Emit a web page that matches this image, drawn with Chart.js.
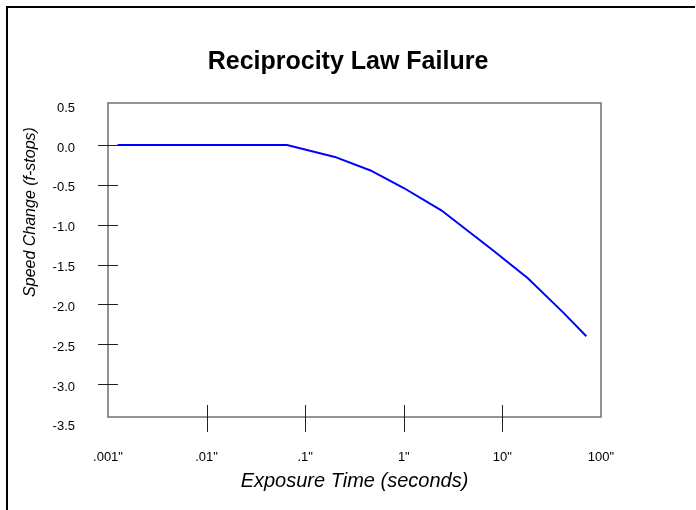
<!DOCTYPE html>
<html>
<head>
<meta charset="utf-8">
<script src="https://cdn.jsdelivr.net/npm/chart.js@4"></script>
<style>
  html, body { margin: 0; padding: 0; background: #fff; }
  #grafico { display: block; }
</style>
</head>
<body>
<canvas id="grafico" width="696" height="510"></canvas>
<script>
// exposure time (s) vs speed change (f-stops)
const tiempos = [0.00125, 0.0655, 0.2, 0.46, 1, 2.4, 7.6, 18, 42, 71];
const cambios = [0, 0, -0.15, -0.32, -0.54, -0.82, -1.30, -1.67, -2.11, -2.40];

const marcasX = [0.001, 0.01, 0.1, 1, 10, 100];
const etiquetasX = ['.001"', '.01"', '.1"', '1"', '10"', '100"'];
const marcasY = [0.5, 0, -0.5, -1, -1.5, -2, -2.5, -3, -3.5];

const titulo = 'Reciprocity Law Failure';
const tituloX = 'Exposure Time (seconds)';
const tituloY = 'Speed Change (f-stops)';

const fuente = "'Liberation Sans', Arial, sans-serif";

// box, crossing ticks, y title and the outer frame
const marcoPlugin = {
    id: 'marco',
    afterDraw(chart) {
        const ctx = chart.ctx;
        const area = chart.chartArea;
        const x = chart.scales.x;
        const y = chart.scales.y;
        ctx.save();

        ctx.strokeStyle = '#707070';
        ctx.lineWidth = 1.5;
        ctx.strokeRect(area.left, area.top, area.right - area.left, area.bottom - area.top);

        ctx.strokeStyle = '#222';
        ctx.lineWidth = 1;
        x.ticks.forEach(t => {
            const px = x.getPixelForValue(t.value);
            if (px < area.left + 4 || px > area.right - 4) return; // no tick on the box edges
            const p = Math.round(px) + 0.5;
            ctx.beginPath();
            ctx.moveTo(p, area.bottom - 12);
            ctx.lineTo(p, area.bottom + 15);
            ctx.stroke();
        });
        y.ticks.forEach(t => {
            const py = y.getPixelForValue(t.value);
            if (py < area.top + 4 || py > area.bottom - 4) return;
            const p = Math.round(py) + 0.5;
            ctx.beginPath();
            ctx.moveTo(area.left - 10, p);
            ctx.lineTo(area.left + 10, p);
            ctx.stroke();
        });

        ctx.fillStyle = '#000';
        ctx.font = 'italic 16px ' + fuente;
        ctx.textAlign = 'center';
        ctx.textBaseline = 'middle';
        ctx.translate(31, 212);
        ctx.rotate(-Math.PI / 2);
        ctx.fillText(tituloY, 0, 0);
        ctx.setTransform(1, 0, 0, 1, 0, 0);

        ctx.strokeStyle = '#000';
        ctx.lineWidth = 2;
        ctx.beginPath();
        ctx.moveTo(7, 510);
        ctx.lineTo(7, 7);
        ctx.lineTo(695, 7);
        ctx.stroke();
        ctx.restore();
    }
};

const ctx = document.getElementById('grafico').getContext('2d');
new Chart(ctx, {
    type: 'line',
    data: {
        datasets: [{
            label: 'Speed change',
            data: tiempos.map((t, i) => ({x: t, y: cambios[i]})),
            xAxisID: 'x',
            yAxisID: 'y',
            borderColor: '#0000ff',
            borderWidth: 2,
            pointRadius: 0,
            tension: 0,
            fill: false
        }]
    },
    options: {
        responsive: false,
        animation: false,
        layout: {
            padding: 0
        },
        plugins: {
            legend: {display: false},
            tooltip: {enabled: false},
            title: {
                display: true,
                text: titulo,
                color: '#000',
                font: {family: fuente, size: 25, weight: 'bold'},
                padding: {top: 47, bottom: 26}
            }
        },
        scales: {
            x: {
                type: 'logarithmic',
                min: 0.001,
                max: 100,
                afterFit: (scale) => { scale.height = 93; },
                afterBuildTicks: (scale) => {
                    scale.ticks = marcasX.map(v => ({value: v}));
                },
                grid: {display: false, drawTicks: false},
                border: {display: false},
                ticks: {
                    autoSkip: false,
                    maxRotation: 0,
                    padding: 33,
                    color: '#000',
                    font: {family: fuente, size: 13},
                    callback: (value, index) => etiquetasX[index]
                },
                title: {
                    display: true,
                    text: tituloX,
                    color: '#000',
                    font: {family: fuente, size: 20, style: 'italic'},
                    padding: {top: 0, bottom: 17}
                }
            },
            y: {
                // the box runs a little past 0.5 and short of -3.5
                min: -3.414,
                max: 0.527,
                afterFit: (scale) => { scale.width = 108; },
                afterBuildTicks: (scale) => {
                    scale.ticks = marcasY.map(v => ({value: v}));
                },
                grid: {display: false, drawTicks: false},
                border: {display: false},
                ticks: {
                    autoSkip: false,
                    padding: 33,
                    labelOffset: 3,
                    color: '#000',
                    font: {family: fuente, size: 13},
                    callback: (value) => value.toFixed(1)
                }
            },
            derecho: {
                // empty right-hand margin so the title centres on the page
                type: 'linear',
                position: 'right',
                afterFit: (scale) => { scale.width = 95; },
                grid: {display: false},
                border: {display: false},
                ticks: {display: false}
            }
        }
    },
    plugins: [marcoPlugin]
});
</script>
</body>
</html>
